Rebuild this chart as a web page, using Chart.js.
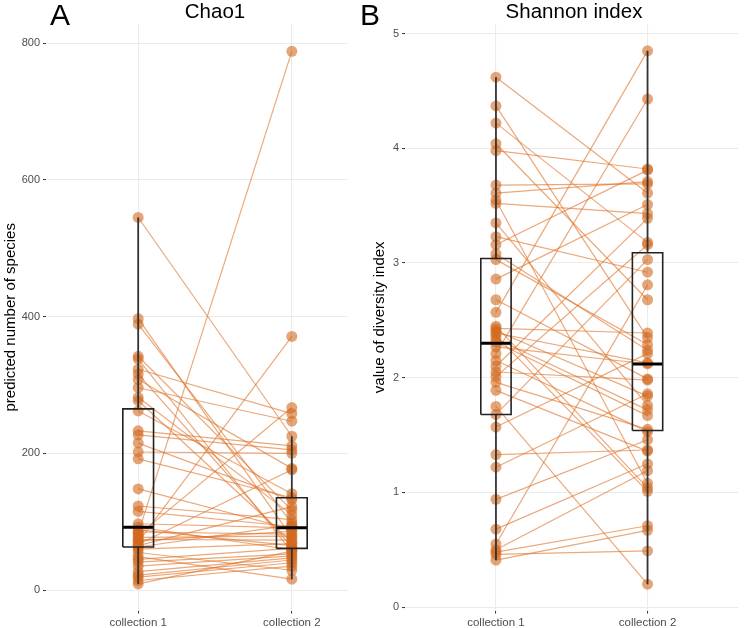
<!DOCTYPE html>
<html>
<head>
<meta charset="utf-8">
<script src="https://cdn.jsdelivr.net/npm/chart.js@4.4.2/dist/chart.umd.min.js"></script>
<style>
  body { margin: 0; width: 744px; height: 628px; position: relative; background: #fff; overflow: hidden;
         font-family: "Liberation Sans", Arial, sans-serif; }
  .panel { position: absolute; top: 0; height: 628px; background: #fff; }
  #panelA { left: 0; width: 390px; }
  #panelB { left: 348px; width: 396px; }
  .tag { position: absolute; top: 0px; font-size: 30px; line-height: 1; color: #000; }
  .title { position: absolute; top: 1px; font-size: 20.5px; line-height: 1; color: #000;
           transform: translateX(-50%); white-space: nowrap; }
</style>
</head>
<body>
<div class="panel" id="panelA">
  <canvas id="chao" width="390" height="628"></canvas>
  <div class="tag" style="left:50px">A</div>
  <div class="title" style="left:215px">Chao1</div>
</div>
<div class="panel" id="panelB">
  <canvas id="shannon" width="396" height="628"></canvas>
  <div class="tag" style="left:12px">B</div>
  <div class="title" style="left:226px">Shannon index</div>
</div>
<script>
// ── Data (paired samples: index i in collection 1 ↔ index i in collection 2) ──
const groups = [1, 2];
const groupLabels = ['collection 1', 'collection 2'];

const chaoCollection1 = [545, 397, 389, 342, 338, 323, 316, 308, 296, 282, 277, 262, 233, 227, 215, 202, 192, 148, 123, 115, 97, 92, 88, 85, 83, 80, 77, 74, 72, 70, 67, 65, 63, 60, 55, 49, 45, 41, 35, 27, 22, 19, 14, 9];
const chaoCollection2 = [225, 77, 98, 117, 56, 258, 63, 178, 247, 110, 70, 141, 211, 205, 132, 200, 135, 89, 103, 93, 91, 59, 65, 82, 788, 267, 79, 73, 86, 371, 176, 122, 95, 68, 29, 16, 61, 53, 50, 47, 44, 40, 35, 57];
const chaoTicks = [0, 200, 400, 600, 800];
// box stats per group (whisker low, Q1, median, Q3, whisker high)
const chaoLow = [9, 16];
const chaoQ1 = [63, 61];
const chaoMedian = [92, 91];
const chaoQ3 = [265, 135];
const chaoHigh = [545, 225];

const shannonCollection1 = [4.62, 4.37, 4.22, 4.04, 3.98, 3.68, 3.61, 3.55, 3.52, 3.35, 3.23, 3.16, 3.08, 3.03, 2.86, 2.68, 2.57, 2.45, 2.43, 2.41, 2.39, 2.37, 2.34, 2.31, 2.27, 2.21, 2.15, 2.10, 2.05, 2.01, 1.96, 1.89, 1.75, 1.68, 1.57, 1.33, 1.22, 0.94, 0.68, 0.55, 0.50, 0.48, 0.46, 0.41];
const shannonCollection2 = [3.61, 2.35, 3.18, 2.68, 3.82, 3.69, 3.71, 1.08, 3.43, 1.76, 2.92, 3.81, 2.24, 2.29, 3.51, 1.99, 4.85, 1.04, 2.39, 1.84, 2.13, 1.01, 1.72, 1.67, 2.12, 4.43, 1.53, 3.39, 1.98, 3.16, 1.55, 1.36, 0.20, 3.03, 2.21, 1.37, 1.86, 1.46, 1.25, 2.81, 1.19, 0.71, 0.49, 0.67];
const shannonTicks = [0, 1, 2, 3, 4, 5];
const shannonLow = [0.41, 0.20];
const shannonQ1 = [1.68, 1.54];
const shannonMedian = [2.30, 2.12];
const shannonQ3 = [3.04, 3.09];
const shannonHigh = [4.62, 4.85];

// ── Style ──
const FONT = '"Liberation Sans", Arial, sans-serif';
const POINT = 'rgba(210, 105, 30, 0.6)';
const LINE = 'rgba(222, 115, 40, 0.62)';
const BOX_HALF = 0.1;
const X_AXIS_H = 17.4;

function buildDatasets(c1, c2, low, q1, med, q3, high) {
  const ds = [];
  const seg = (data, color, width) => ({
    data, showLine: true, borderColor: color, borderWidth: width,
    pointRadius: 0, fill: false, borderJoinStyle: 'miter', order: 0,
  });
  groups.forEach((g, i) => {
    ds.push(seg([
      { x: g - BOX_HALF, y: q1[i] }, { x: g + BOX_HALF, y: q1[i] },
      { x: g + BOX_HALF, y: q3[i] }, { x: g - BOX_HALF, y: q3[i] },
      { x: g - BOX_HALF, y: q1[i] },
    ], '#222', 1.6));
    ds.push(seg([{ x: g - BOX_HALF, y: med[i] }, { x: g + BOX_HALF, y: med[i] }], '#000', 3));
    ds.push(seg([{ x: g, y: low[i] }, { x: g, y: q1[i] }], '#333', 1.8));
    ds.push(seg([{ x: g, y: q3[i] }, { x: g, y: high[i] }], '#333', 1.8));
  });
  ds.push({
    data: c1.map(v => ({ x: groups[0], y: v })).concat(c2.map(v => ({ x: groups[1], y: v }))),
    showLine: false, pointRadius: 5.5, pointBackgroundColor: POINT, pointBorderWidth: 0, order: 1,
  });
  c1.forEach((v, i) => ds.push({
    data: [{ x: groups[0], y: v }, { x: groups[1], y: c2[i] }],
    showLine: true, borderColor: LINE, borderWidth: 1.2, pointRadius: 0, order: 2,
  }));
  return ds;
}

function makeChart(id, datasets, yMin, yMax, yTicks, yTitle, yWidth, titlePad, padRight) {
  const grid = { color: '#EBEBEB', lineWidth: 1.1, tickColor: '#333', tickLength: 3, tickWidth: 1 };
  return new Chart(document.getElementById(id), {
    type: 'scatter',
    data: { datasets },
    options: {
      responsive: false,
      animation: false,
      events: [],
      layout: { padding: { top: 24, right: padRight, left: 0, bottom: 0 } },
      plugins: { legend: { display: false }, tooltip: { enabled: false } },
      scales: {
        x: {
          type: 'linear', min: 0.4, max: 2.6,
          afterBuildTicks: s => { s.ticks = groups.map(v => ({ value: v })); },
          afterFit: s => { s.height = X_AXIS_H; },
          ticks: {
            callback: v => groupLabels[groups.indexOf(v)],
            color: '#4D4D4D', font: { family: FONT, size: 11.5 }, padding: 2, maxRotation: 0, autoSkip: false,
          },
          grid, border: { display: false },
        },
        y: {
          type: 'linear', min: yMin, max: yMax,
          afterBuildTicks: s => { s.ticks = yTicks.map(v => ({ value: v })); },
          afterFit: s => { s.width = yWidth; },
          ticks: { color: '#4D4D4D', font: { family: FONT, size: 11 }, padding: 3 },
          grid, border: { display: false },
          title: {
            display: true, text: yTitle, color: '#000',
            font: { family: FONT, size: 15 }, padding: { top: titlePad, bottom: 0 },
          },
        },
      },
    },
  });
}

makeChart('chao',
  buildDatasets(chaoCollection1, chaoCollection2, chaoLow, chaoQ1, chaoMedian, chaoQ3, chaoHigh),
  -30, 828, chaoTicks, 'predicted number of species', 46, 1.5, 6);

makeChart('shannon',
  buildDatasets(shannonCollection1, shannonCollection2, shannonLow, shannonQ1, shannonMedian, shannonQ3, shannonHigh),
  -0.03, 5.084, shannonTicks, 'value of diversity index', 57, 22.5, 2);
</script>
</body>
</html>
